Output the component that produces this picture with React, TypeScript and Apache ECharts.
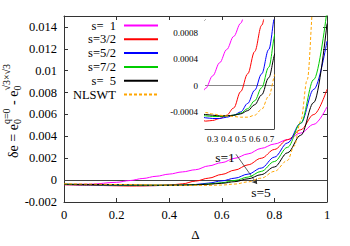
import React, { useEffect, useRef } from "react";
import * as echarts from "echarts";

// ---- data ----
const delta = [0, 0.1, 0.2, 0.25, 0.3, 0.35, 0.4, 0.45, 0.5, 0.55, 0.6, 0.65, 0.7, 0.75, 0.8, 0.85, 0.9, 0.95, 1.0];
const s1 = [-0.00042, -0.00037, -0.0002, -0.00004, 0.00015, 0.00035, 0.00055, 0.00075, 0.00095, 0.0013, 0.0016, 0.002, 0.0024, 0.0029, 0.0033, 0.0037, 0.0043, 0.0051, 0.0067];
const s32 = [-0.00042, -0.00047, -0.00052, -0.00054, -0.00053, -0.0005, -0.00045, -0.00034, -0.00009, 0.00018, 0.00052, 0.00092, 0.0014, 0.002, 0.0028, 0.0037, 0.0046, 0.006, 0.0083];
const s52 = [-0.0004, -0.00044, -0.00047, -0.00049, -0.0005, -0.0005, -0.00048, -0.00045, -0.0004, -0.00027, -0.00007, 0.00018, 0.00055, 0.0011, 0.0021, 0.0034, 0.0052, 0.0083, 0.0127];
const s72 = [-0.00038, -0.00042, -0.00045, -0.00046, -0.00047, -0.00047, -0.00046, -0.00045, -0.00042, -0.00035, -0.00023, -0.00003, 0.00028, 0.0008, 0.0017, 0.003, 0.0052, 0.0092, 0.0155];
const s5 = [-0.00036, -0.0004, -0.00043, -0.00044, -0.00045, -0.00046, -0.00046, -0.00045, -0.00043, -0.00038, -0.00029, -0.00014, 0.00012, 0.0005, 0.0012, 0.0025, 0.0041, 0.0071, 0.0143];
const deltaNl = [0, 0.1, 0.2, 0.25, 0.3, 0.35, 0.4, 0.45, 0.5, 0.55, 0.6, 0.65, 0.7, 0.75, 0.8, 0.85, 0.875, 0.9, 0.925, 0.95, 1.0];
const nlswt = [-0.00033, -0.00036, -0.0004, -0.00041, -0.00043, -0.00045, -0.00046, -0.00047, -0.00048, -0.00048, -0.00045, -0.00036, -0.00016, 0.00018, 0.0008, 0.0018, 0.0031, 0.0054, 0.0092, 0.0165, 0.035];

const seriesNames = ["s=  1", "s=3/2", "s=5/2", "s=7/2", "s=  5", "NLSWT"];

const mainXTicks = [0, 0.2, 0.4, 0.6, 0.8, 1];
const mainYTicks = [-0.002, 0, 0.002, 0.004, 0.006, 0.008, 0.01, 0.012, 0.014];
const insetXTicks = [0.3, 0.4, 0.5, 0.6, 0.7];
const insetYTicks = [-0.0004, 0, 0.0004, 0.0008];

const xTitle = "Δ";
const annotS1 = "s=1";
const annotS5 = "s=5";
const arrowFrom = [0.654, 0.00236];
const arrowTo = [0.734, -0.00036];

// ---- styles ----
const FONT = "'Liberation Serif', 'Times New Roman', Times, serif";
const colors = ["#ff00ff", "#ff0000", "#0000ff", "#00cc00", "#000000", "#ffa500"];

export default function App() {
  const ref = useRef<HTMLDivElement>(null);

  useEffect(() => {
    if (!ref.current) return;
    const chart = echarts.init(ref.current, undefined, { renderer: "svg" });

    const canvas = document.createElement("canvas");
    const ctx = canvas.getContext("2d")!;
    const w = (t: string, size: number) => {
      ctx.font = `${size}px ${FONT}`;
      return ctx.measureText(t).width;
    };

    // y-axis label built from pieces: δe = e_0^{q=0} - e_0^{√3×√3}
    const M = 14;
    const S = 10;
    const children: any[] = [];
    let cx = 0;
    const put = (t: string, size: number, dy: number) =>
      children.push({
        type: "text",
        x: cx,
        y: dy,
        style: { text: t, font: `${size}px ${FONT}`, fill: "#000", align: "left", verticalAlign: "middle" },
      });
    const sp = w(" ", M);
    put("δe", M, 0); cx += w("δe", M) + sp;
    put("=", M, 0); cx += w("=", M) + sp;
    put("e", M, 0); cx += w("e", M);
    put("0", S, 4); put("q=0", S, -7); cx += Math.max(w("0", S), w("q=0", S)) + sp;
    put("-", M, 0); cx += w("-", M) + sp;
    put("e", M, 0); cx += w("e", M);
    put("0", S, 4); put("√3×√3", S, -7); cx += Math.max(w("0", S), w("√3×√3", S));
    const total = cx;

    const lineSeries = (xs: number[], ys: number[], i: number, axis: number) => ({
      type: "line",
      name: seriesNames[i],
      xAxisIndex: axis,
      yAxisIndex: axis,
      data: xs.map((x, k) => [x, ys[k]]),
      symbol: "none",
      smooth: 0.35,
      smoothMonotone: "x",
      clip: true,
      silent: true,
      lineStyle: { color: colors[i], width: 1, type: i === 5 ? [3, 2] : "solid" },
      itemStyle: { color: colors[i] },
      z: 3 + i,
    });

    const ys = [s1, s32, s52, s72, s5, nlswt];
    const xsFor = (i: number) => (i === 5 ? deltaNl : delta);

    const series: any[] = [];
    ys.forEach((y, i) => series.push(lineSeries(xsFor(i), y, i, 0)));
    ys.forEach((y, i) => series.push(lineSeries(xsFor(i), y, i, 1)));

    series[0].markLine = {
      silent: true,
      symbol: "none",
      label: { show: false },
      lineStyle: { color: "#444", width: 1, type: "solid" },
      data: [{ yAxis: 0 }],
      z: 2,
    };
    series[4].markLine = {
      silent: true,
      symbol: ["none", "arrow"],
      symbolSize: 5,
      label: { show: false },
      lineStyle: { color: "#333", width: 0.8, type: "solid" },
      data: [[{ coord: arrowFrom }, { coord: arrowTo }]],
    };
    series[6].markLine = {
      silent: true,
      symbol: "none",
      label: { show: false },
      lineStyle: { color: "#888", width: 1, type: "solid" },
      data: [{ yAxis: 0 }],
      z: 2,
    };

    const mk = (gridIndex: number, position: string, min: number, max: number, ticks: number[], main: boolean, labels: boolean, isY: boolean) => ({
      type: "value",
      gridIndex,
      position,
      min,
      max,
      splitLine: { show: false },
      axisLine: { show: true, onZero: false, lineStyle: { color: main ? "#333" : "#444", width: 1 } },
      axisTick: { show: true, inside: true, length: main ? 4 : 3, customValues: ticks, lineStyle: { color: main ? "#333" : "#444" } },
      axisLabel: labels
        ? {
            show: true,
            customValues: ticks,
            color: "#000",
            fontFamily: FONT,
            fontSize: main ? 12.5 : 9,
            margin: isY ? 7 : main ? 6 : 5,
            formatter: (v: number) => String(v),
          }
        : { show: false },
    });

    const option: any = {
      animation: false,
      backgroundColor: "#fff",
      textStyle: { fontFamily: FONT },
      grid: [
        { left: 64, top: 16, width: 263, height: 189 },
        { left: 205, top: 20, width: 69, height: 109, show: true, backgroundColor: "#fff", borderWidth: 0, z: 1 },
      ],
      xAxis: [
        {
          ...mk(0, "bottom", 0, 1, mainXTicks, true, true, false),
          name: xTitle, nameLocation: "middle", nameGap: 26,
          nameTextStyle: { color: "#000", fontFamily: FONT, fontSize: 13 },
        },
        mk(1, "bottom", 0.245, 0.738, insetXTicks, false, true, false),
        mk(0, "top", 0, 1, mainXTicks, true, false, false),
        mk(1, "top", 0.245, 0.738, insetXTicks, false, false, false),
      ],
      yAxis: [
        mk(0, "left", -0.002, 0.015, mainYTicks, true, true, true),
        mk(1, "left", -0.00066, 0.001, insetYTicks, false, true, true),
        mk(0, "right", -0.002, 0.015, mainYTicks, true, false, true),
        mk(1, "right", -0.00066, 0.001, insetYTicks, false, false, true),
      ],
      legend: {
        data: seriesNames,
        orient: "vertical",
        align: "right",
        right: 191,
        top: 19,
        padding: 0,
        itemWidth: 34,
        itemHeight: 12,
        itemGap: 0.8,
        selectedMode: false,
        itemStyle: { opacity: 0 },
        textStyle: { color: "#000", fontFamily: FONT, fontSize: 12.5, lineHeight: 12, padding: [0, 3, 0, 0] },
      },
      graphic: [
        {
          type: "group",
          x: 13,
          y: 111 + total / 2,
          rotation: Math.PI / 2,
          children,
        },
        {
          type: "text",
          x: 225,
          y: 157,
          style: { text: annotS1, font: `13.5px ${FONT}`, fill: "#000", align: "center", verticalAlign: "middle" },
          z: 20,
        },
        {
          type: "text",
          x: 261,
          y: 192,
          style: { text: annotS5, font: `13.5px ${FONT}`, fill: "#000", align: "center", verticalAlign: "middle" },
          z: 20,
        },
      ],
      series,
    };

    chart.setOption(option);
    return () => chart.dispose();
  }, []);

  return <div ref={ref} style={{ position: "fixed", left: 0, top: 0, width: 350, height: 246 }} />;
}
